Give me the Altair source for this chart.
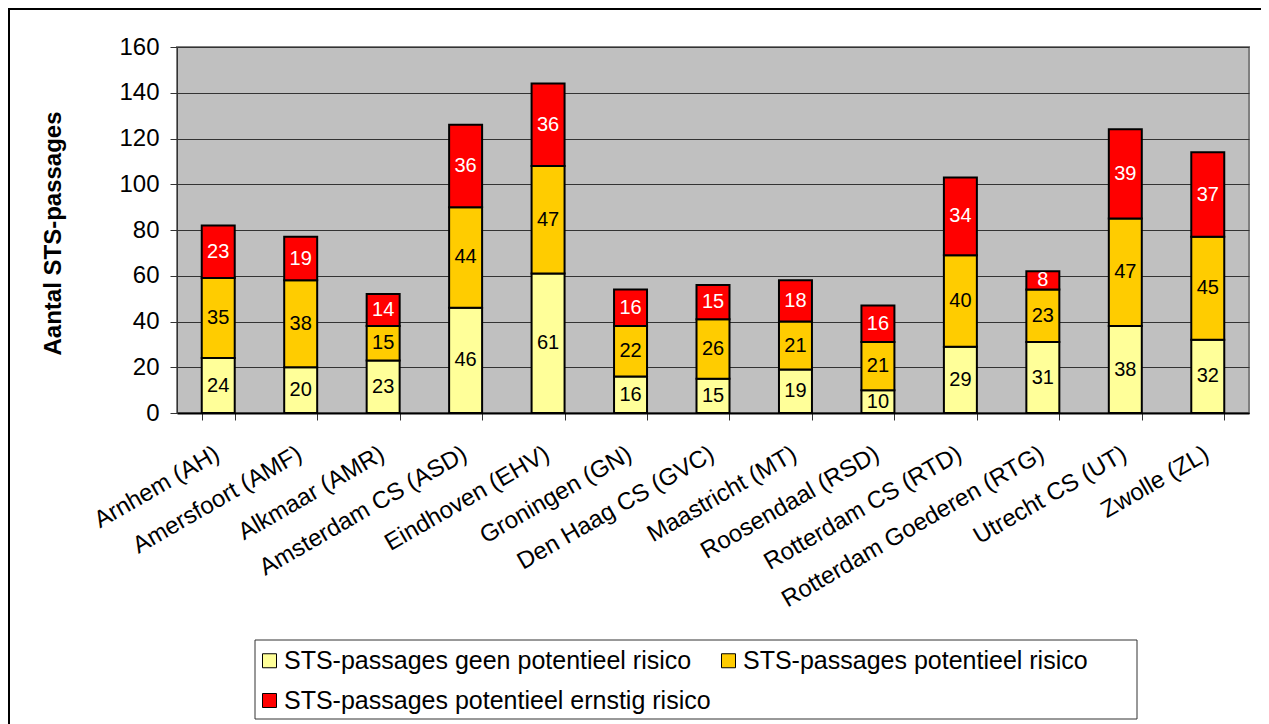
import altair as alt
import pandas as pd

stations = [
    "Arnhem (AH)", "Amersfoort (AMF)", "Alkmaar (AMR)", "Amsterdam CS (ASD)",
    "Eindhoven (EHV)", "Groningen (GN)", "Den Haag CS (GVC)", "Maastricht (MT)",
    "Roosendaal (RSD)", "Rotterdam CS (RTD)", "Rotterdam Goederen (RTG)",
    "Utrecht CS (UT)", "Zwolle (ZL)",
]
geen = [24, 20, 23, 46, 61, 16, 15, 19, 10, 29, 31, 38, 32]
potentieel = [35, 38, 15, 44, 47, 22, 26, 21, 21, 40, 23, 47, 45]
ernstig = [23, 19, 14, 36, 36, 16, 15, 18, 16, 34, 8, 39, 37]

series = [
    "STS-passages geen potentieel risico",
    "STS-passages potentieel risico",
    "STS-passages potentieel ernstig risico",
]
colors = ["#FFFF99", "#FFCC00", "#FF0000"]

rows = []
for i, st in enumerate(stations):
    for r, (name, vals) in enumerate(zip(series, [geen, potentieel, ernstig])):
        rows.append({"station": st, "serie": name, "rank": r + 1, "value": vals[i]})
df = pd.DataFrame(rows)

FONT = "Liberation Sans"

base = alt.Chart(df).transform_stack(
    stack="value",
    groupby=["station"],
    as_=["v0", "v1"],
    sort=[alt.SortField("rank", order="ascending")],
).transform_calculate(mid="(datum.v0 + datum.v1) / 2")

xenc = alt.X(
    "station:N",
    sort=stations,
    scale=alt.Scale(paddingInner=0.6, paddingOuter=0.3),
    axis=alt.Axis(
        title=None,
        labelAngle=-30,
        labelAlign="right",
        labelBaseline="middle",
        labelFontSize=24,
        labelFont=FONT,
        labelColor="black",
        labelPadding=32,
        labelOffset=-1,
        labelOverlap=False,
        labelLimit=0,
        tickBand="extent",
        tickSize=7,
        tickColor="#333333",
        domainColor="#000000",
        domainWidth=2,
        grid=False,
    ),
)

bars = base.mark_bar(stroke="black", strokeWidth=2).encode(
    x=xenc,
    y=alt.Y(
        "v0:Q",
        scale=alt.Scale(domain=[0, 160], nice=False),
        axis=alt.Axis(
            title="Aantal STS-passages",
            titleFont=FONT,
            titleFontSize=24,
            titleFontWeight="bold",
            titleColor="black",
            titleAngle=270,
            titleX=-124,
            titleY=186,
            titleAlign="center",
            titleBaseline="middle",
            values=[0, 20, 40, 60, 80, 100, 120, 140, 160],
            labelFontSize=24,
            labelFont=FONT,
            labelColor="black",
            labelPadding=11,
            tickSize=7,
            tickColor="#333333",
            domainColor="#333333",
            gridColor="#333333",
            gridWidth=1,
        ),
    ),
    y2="v1:Q",
    color=alt.Color(
        "serie:N",
        scale=alt.Scale(domain=series, range=colors),
        legend=alt.Legend(
            title=None,
            orient="none",
            legendX=73,
            legendY=594,
            columns=2,
            gridAlign="all",
            direction="horizontal",
            symbolType="square",
            symbolSize=196,
            symbolStrokeColor="black",
            symbolStrokeWidth=1,
            labelFont=FONT,
            labelFontSize=25,
            labelColor="black",
            labelOffset=2,
            labelLimit=0,
            columnPadding=5,
            rowPadding=14,
            padding=7,
            strokeColor="transparent",
        ),
    ),
)

labels = base.mark_text(font=FONT, fontSize=20).encode(
    x=alt.X("station:N", sort=stations),
    y=alt.Y("mid:Q"),
    text=alt.Text("value:Q"),
    color=alt.condition(alt.datum.rank == 3, alt.value("white"), alt.value("black")),
)

deco = alt.Chart(alt.Data(values=[{"a": 1}]))

border = deco.mark_rect(fillOpacity=0, stroke="black", strokeWidth=2).encode(
    x=alt.value(-168), x2=alt.value(1088), y=alt.value(-38), y2=alt.value(720)
)

legend_box = deco.mark_rect(fill="white", stroke="#333333", strokeWidth=1).encode(
    x=alt.value(78), x2=alt.value(960), y=alt.value(593), y2=alt.value(672)
)

chart = alt.layer(border, legend_box, bars, labels).properties(
    width=1072,
    height=366,
    padding={"left": 169, "top": 39, "right": 12, "bottom": 311},
    autosize=alt.AutoSizeParams(type="none"),
    background="white",
).configure_view(
    fill="#C0C0C0", stroke="#808080", strokeWidth=2
)

chart.save("out.html", embed_options={"renderer": "svg", "actions": False})
